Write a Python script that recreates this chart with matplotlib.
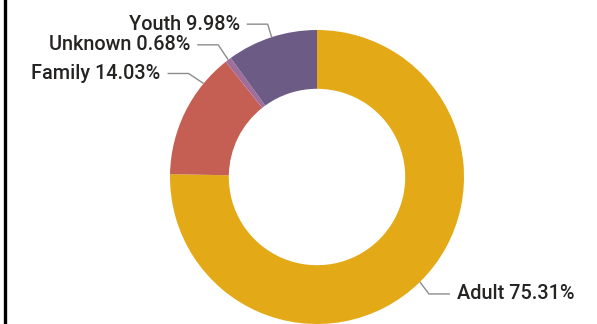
import numpy as np
import matplotlib
matplotlib.use("Agg")
import matplotlib.pyplot as plt

categories = ["Adult", "Family", "Unknown", "Youth"]
shares = [75.31, 14.03, 0.68, 9.98]
colors = ["#E3A917", "#C65F53", "#A06E9C", "#6C5B85"]

# layout for leader lines (fraction within wedge for anchor, elbow offset & horizontal run in px)
anchor_frac = [0.5, 0.76, 0.5, 0.5]
elbow_off = [(9, -12), (-15, 10), (-10, 15), (-4, 13)]
run_px = 21
gap_px = 7

W, H, DPI = 597, 324, 100
cx, cy, R = 317, 177, 147

fig = plt.figure(figsize=(W / DPI, H / DPI), dpi=DPI)
ax = fig.add_axes([0, 0, 1, 1])

wedges, _ = ax.pie(shares, colors=colors, startangle=90, counterclock=False,
                   radius=1.0, wedgeprops=dict(width=0.4, edgecolor="none"))
ax.set_aspect("auto")
ax.set_xlim(-cx / R, (W - cx) / R)
ax.set_ylim(-(H - cy) / R, cy / R)
ax.axis("off")

total = sum(shares)
cum = 0.0
px = 1.0 / R
for i, (cat, v) in enumerate(zip(categories, shares)):
    frac = (cum + v * anchor_frac[i]) / total
    cum += v
    ang = np.deg2rad(90 - 360 * frac)
    ax_x, ax_y = np.cos(ang), np.sin(ang)
    ex = ax_x + elbow_off[i][0] * px
    ey = ax_y + elbow_off[i][1] * px
    side = 1 if ax_x > 0 else -1
    hx = ex + side * run_px * px
    ax.plot([ax_x, ex, hx], [ax_y, ey, ey], color="#8C8C8C", lw=1.0,
            solid_capstyle="butt")
    ax.text(hx + side * gap_px * px, ey, f"{cat} {v:.2f}%",
            ha="left" if side > 0 else "right", va="center",
            fontsize=14.3, family="Roboto", fontweight="medium", color="#252423")

# left frame line
fig.add_artist(plt.Line2D([4.5 / W, 4.5 / W], [0, 1], color="black", lw=2.4,
                          transform=fig.transFigure))

fig.savefig("out.png", dpi=DPI)
